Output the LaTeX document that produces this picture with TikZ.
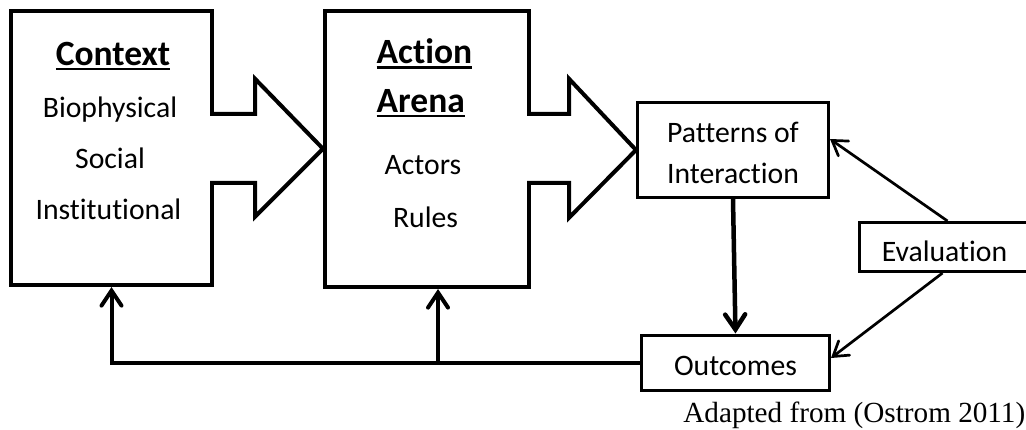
\documentclass[tikz,border=0pt]{standalone}
\usepackage{fontspec}
\setmainfont[Ligatures={NoCommon}]{Carlito}
\newfontfamily\capfont{Liberation Serif}
\usetikzlibrary{arrows.meta,calc}
\newcommand{\myul}[1]{{\setbox0\hbox{#1}\rlap{\rule[-5pt]{\wd0}{2.3pt}}\box0}}
\tikzset{
  bigbox/.style={draw, line width=4pt, inner sep=0pt},
  smallbox/.style={draw, line width=3pt, inner sep=0pt},
  txt/.style={inner sep=0pt, anchor=base, font=\fontsize{29.7}{36}\selectfont},
  ttl/.style={inner sep=0pt, anchor=base west, font=\fontsize{35.5}{40}\selectfont\bfseries},
  blockarr/.style={fill=white, draw, line width=4pt, miter limit=10},
  fb/.style={line width=4pt, -{Straight Barb[length=15pt,width=20pt,line cap=round]}},
  diag/.style={line width=2.7pt, -{Straight Barb[length=14pt,width=18pt,line cap=round]}},
}
\begin{document}
\begin{tikzpicture}[x=1pt,y=-1pt]
\clip (0,0) rectangle (1026,429);
\fill[white] (0,0) rectangle (1026,429);
% boxes
\node[bigbox, minimum width=201pt, minimum height=274.5pt] (ctx) at (111.5,147.75) {};
\node[bigbox, minimum width=204pt, minimum height=276.5pt] (act) at (427,148.75) {};
\node[smallbox, minimum width=191pt, minimum height=95pt] (pat) at (733,150) {};
\node[smallbox, minimum width=171pt, minimum height=49pt] (eval) at (944.5,247) {};
\node[smallbox, minimum width=188pt, minimum height=55pt] (out) at (735.5,362.5) {};
% block arrows
\filldraw[blockarr] ($(ctx.east)+(-4,-34)$) -- ($(ctx.east)+(41,-34)$) -- ($(ctx.east)+(41,-69)$)
  -- (act.west) -- ($(ctx.east)+(41,69)$) -- ($(ctx.east)+(41,35)$) -- ($(ctx.east)+(-4,35)$);
\filldraw[blockarr] ($(act.east)+(-4,-35)$) -- ($(act.east)+(38,-35)$) -- ($(act.east)+(38,-70)$)
  -- (pat.west) -- ($(act.east)+(38,69)$) -- ($(act.east)+(38,34)$) -- ($(act.east)+(-4,34)$);
% texts
\node[ttl, anchor=base] (ctxt) at (113,65) {\myul{Context}};
\node[txt] (bio) at (110,117) {Biophysical};
\node[txt] (soc) at (110,168) {Social};
\node[txt] (ins) at (108.5,219.5) {Institutional};
\node[ttl] (actt) at (376.5,63.5) {\myul{Action}};
\node[ttl] (aret) at (376.5,112) {\myul{Arena}};
\node[txt] (acto) at (423,174) {Actors};
\node[txt] (rul) at (425.5,227) {Rules};
\node[txt] (patt1) at (733,142) {Patterns of};
\node[txt] (patt2) at (733,183.3) {Interaction};
\node[txt] (evt) at (944.5,261) {Evaluation};
\node[txt] (outt) at (735.5,375) {Outcomes};
\node[inner sep=0pt, anchor=base east, font=\fontsize{29.2}{34}\selectfont\capfont] (cap) at (1025.5,422) {Adapted from (Ostrom 2011)};
% connectors
\coordinate (j) at (438,362.5);
\draw[fb, line join=miter] (out.west) -| (ctx.south);
\draw[fb] (j) -- (j |- act.south);
\draw[fb, line width=4.5pt] (pat.south) -- (out.north);
\draw[diag] ($(eval.north)+(3,0)$) -- ([yshift=11pt]pat.east);
\draw[diag] ($(eval.south)+(-2,0)$) -- ([yshift=4.5pt]out.east);
\end{tikzpicture}
\end{document}
